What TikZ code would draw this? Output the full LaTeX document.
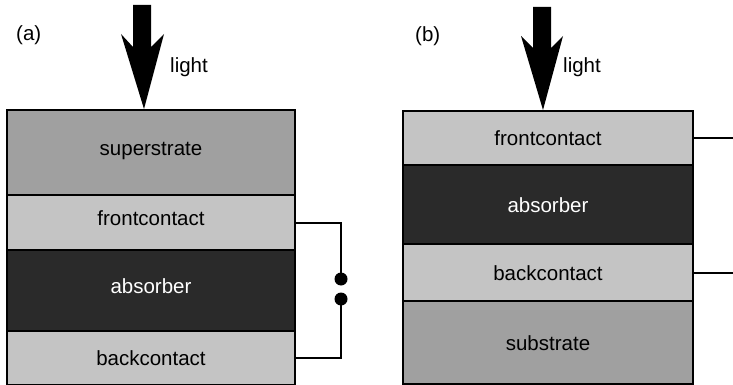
\documentclass[tikz,border=0pt]{standalone}
\usepackage{fontspec}
\setmainfont{Liberation Sans}
\definecolor{bulkgray}{HTML}{A0A0A0}
\definecolor{contactgray}{HTML}{C4C4C4}
\definecolor{absorbgray}{HTML}{2A2A2A}
\tikzset{
  layer/.style={draw=black, line width=2pt, anchor=north west, inner sep=0pt,
    text height=15pt, text depth=0pt,
    font=\fontsize{20.5}{24}\selectfont},
  raised/.style={text depth=10pt},
  bulk/.style={layer, fill=bulkgray},
  contact/.style={layer, fill=contactgray},
  absorb/.style={layer, fill=absorbgray, text=white},
  wire/.style={draw=black, line width=2pt},
  terminal/.style={fill=black},
  lbl/.style={font=\fontsize{20.5}{24}\selectfont, inner sep=0pt},
  beam/.style={fill=black}
}
\begin{document}
\begin{tikzpicture}[x=1pt,y=-1pt]
\useasboundingbox (0,0) rectangle (733,385);

% ---- (a) superstrate configuration ----
\node[bulk, raised,    minimum width=288, minimum height=85] (supA) at (6,109) {superstrate};
\node[contact, raised, minimum width=288, minimum height=55] (frontA) at (6,194) {frontcontact};
\node[absorb, raised,  minimum width=288, minimum height=81] (absA) at (6,249) {absorber};
\node[contact, minimum width=288, minimum height=54] (backA) at (6,330) {backcontact};

\coordinate (d1) at (341,279);
\coordinate (d2) at (341,299);
\draw[wire] (frontA.east) -| (d1);
\draw[wire] (backA.east) -| (d2);
\fill[terminal] (d1) circle (6.5pt);
\fill[terminal] (d2) circle (6.5pt);

\coordinate (tipA) at ([xshift=-7pt]supA.north);
\fill[beam] (133,5) -- (151,5) -- (151,47) -- (164,34) -- (tipA) -- (121,34) -- (133,47) -- cycle;
\node[lbl, anchor=base west] (lightA) at (170,73) {light};
\node[lbl, anchor=base west] (labA) at (16,41) {(a)};

% ---- (b) substrate configuration ----
\node[contact, minimum width=290, minimum height=54] (frontB) at (402,110) {frontcontact};
\node[absorb,  minimum width=290, minimum height=79] (absB) at (402,164) {absorber};
\node[contact, minimum width=290, minimum height=57] (backB) at (402,243) {backcontact};
\node[bulk,    minimum width=290, minimum height=83] (subB) at (402,300) {substrate};

\coordinate (d3) at (740,195);
\coordinate (d4) at (740,215);
\draw[wire] (frontB.east) -| (d3);
\draw[wire] (backB.east) -| (d4);
\fill[terminal] (d3) circle (6.5pt);
\fill[terminal] (d4) circle (6.5pt);

\coordinate (tipB) at ([xshift=-5pt]frontB.north);
\fill[beam] (533,7) -- (551,7) -- (551,48) -- (563,36) -- (tipB) -- (521,36) -- (533,48) -- cycle;
\node[lbl, anchor=base west] (lightB) at (563,73) {light};
\node[lbl, anchor=base west] (labB) at (415,42) {(b)};
\end{tikzpicture}
\end{document}
